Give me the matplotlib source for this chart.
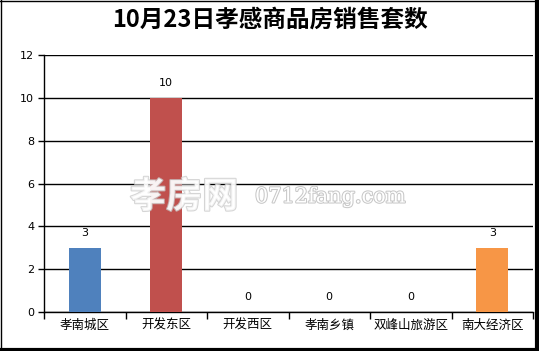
import matplotlib.pyplot as plt
import matplotlib.patheffects as pe
from matplotlib.lines import Line2D

plt.rcParams['font.family'] = ['Noto Sans CJK SC', 'DejaVu Sans']

# data
districts = ['孝南城区', '开发东区', '开发西区', '孝南乡镇', '双峰山旅游区', '南大经济区']
sales = [3, 10, 0, 0, 0, 3]
bar_colors = ['#4F81BD', '#C0504D', '#4F81BD', '#4F81BD', '#4F81BD', '#F79646']
y_ticks = [0, 2, 4, 6, 8, 10, 12]

W, H = 539, 351
fig = plt.figure(figsize=(W / 100, H / 100), dpi=100)
ax = fig.add_axes([44 / W, 1 - 312 / H, (533 - 44) / W, (312 - 55) / H])

x = list(range(len(districts)))
bars = ax.bar(x, sales, width=0.39, color=bar_colors, zorder=3)
for xi, v in zip(x, sales):
    ax.text(xi, v + 0.45, str(v), ha='center', va='bottom', fontsize=8,
            family='DejaVu Sans', zorder=4)

ax.set_xlim(-0.5, len(districts) - 0.5)
ax.set_ylim(0, 12)
ax.set_yticks(y_ticks)
ax.set_yticklabels([str(t) for t in y_ticks], family='DejaVu Sans', fontsize=8)
ax.yaxis.grid(True, color='black', linewidth=1, zorder=1)
ax.set_axisbelow(True)

# category labels between boundary ticks
ax.set_xticks([i - 0.5 for i in range(len(districts) + 1)])
ax.set_xticklabels([])
ax.set_xticks(x, minor=True)
ax.set_xticklabels(districts, minor=True, fontsize=9)
ax.tick_params(axis='x', which='minor', length=0, pad=5)
ax.tick_params(axis='x', which='major', length=5, width=1, color='black')
ax.tick_params(axis='y', length=4, width=1, color='black', pad=3)

for s in ['top', 'right']:
    ax.spines[s].set_visible(False)
ax.spines['left'].set_linewidth(1)
ax.spines['bottom'].set_linewidth(1)

fig.text(0.5, 1 - 20 / H, '10月23日孝感商品房销售套数', ha='center', va='center',
         fontsize=17, fontweight='bold')

# watermark
fig.text(130 / W, 1 - 197 / H, '孝房网', fontsize=26, color='white', alpha=0.75,
         va='center', fontweight='bold',
         path_effects=[pe.withStroke(linewidth=1.5, foreground='#c8c8c8')])
fig.text(255 / W, 1 - 197 / H, '0712fang.com', fontsize=15, color='white',
         va='center', family='DejaVu Serif',
         path_effects=[pe.withStroke(linewidth=1.5, foreground='#c8c8c8')])

# frame with shadow
fig.add_artist(Line2D([0.5 / W, 0.5 / W], [0, 1], color='black', lw=1))
fig.add_artist(Line2D([0, 1], [1 - 0.5 / H, 1 - 0.5 / H], color='black', lw=1))
fig.add_artist(Line2D([536.5 / W, 536.5 / W], [0, 1], color='black', lw=3))
fig.add_artist(Line2D([0, 1], [1.5 / H, 1.5 / H], color='black', lw=3))

fig.savefig('out.png', dpi=100)
